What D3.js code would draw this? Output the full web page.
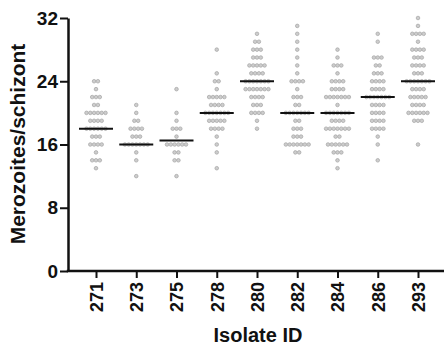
<!DOCTYPE html>
<html>
<head>
<meta charset="utf-8">
<script src="https://cdn.jsdelivr.net/npm/d3@7"></script>
<style>
  body { margin: 0; background: #fff; }
  svg text { font-family: "Liberation Sans", Arial, sans-serif; font-weight: bold; fill: #111; }
</style>
</head>
<body>
<svg id="chart" width="444" height="347"></svg>
<script>
// isolates on the x axis
var isolates = ["271", "273", "275", "278", "280", "282", "284", "286", "293"];
// median bar per isolate
var medians = [18, 16, 16.5, 20, 24, 20, 20, 22, 24];
var yTicks = [0, 8, 16, 24, 32];

// [merozoites per schizont, number of schizonts] per isolate
var rows271 = [[24,2],[23,1],[22,3],[21,2],[20,6],[19,4],[18,6],[17,3],[16,4],[15,1],[14,3],[13,1]];
var rows273 = [[21,1],[20,1],[19,2],[18,4],[17,3],[16,7],[15,1],[14,1],[12,1]];
var rows275 = [[23,1],[20,1],[19,1],[18,3],[17,1],[16,6],[15,2],[14,2],[12,1]];
var rows278 = [[28,1],[25,1],[24,2],[23,1],[22,5],[21,4],[20,7],[19,5],[18,4],[17,1],[16,1],[15,1],[13,1]];
var rows280 = [[30,1],[29,2],[28,3],[27,3],[26,5],[25,4],[24,7],[23,7],[22,4],[21,3],[20,4],[19,1],[18,1]];
var rows282 = [[31,1],[30,1],[29,1],[28,1],[27,1],[26,1],[25,1],[24,4],[23,1],[22,3],[21,2],[20,7],[19,2],[18,3],[17,3],[16,7],[15,2]];
var rows284 = [[28,1],[27,1],[26,3],[25,1],[24,4],[23,4],[22,7],[21,1],[20,7],[19,4],[18,7],[17,2],[16,6],[15,3],[14,1],[13,1]];
var rows286 = [[30,1],[29,1],[27,3],[26,2],[25,3],[24,4],[23,4],[22,7],[21,4],[20,4],[19,4],[18,4],[17,1],[16,1],[14,1]];
var rows293 = [[32,1],[31,1],[30,4],[29,1],[28,4],[27,3],[26,4],[25,3],[24,7],[23,4],[22,5],[21,4],[20,6],[19,3],[16,1]];

var allRows = [rows271, rows273, rows275, rows278, rows280, rows282, rows284, rows286, rows293];

var svg = d3.select("#chart");
var axisX0 = 68, axisX1 = 444;

var x = d3.scalePoint()
    .domain(isolates)
    .range([96, 418]);

var y = d3.scaleLinear()
    .domain([0, 32])
    .range([271, 18]);

var dotStep = 3.8;

/* points: spread each row sideways around the isolate centre */
var points = [];
allRows.forEach(function(rows, i) {
    rows.forEach(function(r) {
        for (var k = 0; k < r[1]; k++) {
            points.push({iso: isolates[i], v: r[0], off: (k - (r[1] - 1) / 2) * dotStep});
        }
    });
});

svg.append("g").selectAll("circle")
    .data(points)
    .join("circle")
    .attr("cx", d => x(d.iso) + d.off)
    .attr("cy", d => y(d.v))
    .attr("r", 1.8)
    .attr("fill", "#cdcdcd")
    .attr("stroke", "#a3a3a3")
    .attr("stroke-width", 0.7);

/* median bars */
svg.append("g").selectAll("line")
    .data(medians)
    .join("line")
    .attr("x1", (d, i) => x(isolates[i]) - 17)
    .attr("x2", (d, i) => x(isolates[i]) + 17)
    .attr("y1", d => y(d))
    .attr("y2", d => y(d))
    .attr("stroke", "#111")
    .attr("stroke-width", 2);

/* y axis */
var gy = svg.append("g")
    .attr("transform", "translate(" + axisX0 + ",0)")
    .call(d3.axisLeft(y).tickValues(yTicks).tickSize(8).tickSizeOuter(0).tickPadding(2));
gy.select(".domain").attr("stroke", "#111").attr("stroke-width", 2.5);
gy.selectAll(".tick line").attr("stroke", "#111").attr("stroke-width", 2);
gy.selectAll(".tick text").style("font-size", "19px").attr("fill", "#111");

/* x axis */
var gx = svg.append("g")
    .attr("transform", "translate(0," + y(0) + ")")
    .call(d3.axisBottom(x).tickSize(7).tickSizeOuter(0));
gx.select(".domain").remove();
gx.append("line")
    .attr("x1", axisX0 - 1.25).attr("x2", axisX1)
    .attr("stroke", "#111").attr("stroke-width", 2.5);
gx.selectAll(".tick line").attr("stroke", "#111").attr("stroke-width", 2);
gx.selectAll(".tick text")
    .style("font-size", "18px")
    .attr("fill", "#111")
    .attr("transform", "rotate(-90)")
    .attr("text-anchor", "end")
    .attr("x", -11)
    .attr("y", 0)
    .attr("dy", "0.35em");

/* titles */
svg.append("text")
    .attr("transform", "translate(25,144) rotate(-90)")
    .attr("text-anchor", "middle")
    .style("font-size", "21px")
    .text("Merozoites/schizont");

svg.append("text")
    .attr("x", 258)
    .attr("y", 342)
    .attr("text-anchor", "middle")
    .style("font-size", "20px")
    .text("Isolate ID");
</script>
</body>
</html>
